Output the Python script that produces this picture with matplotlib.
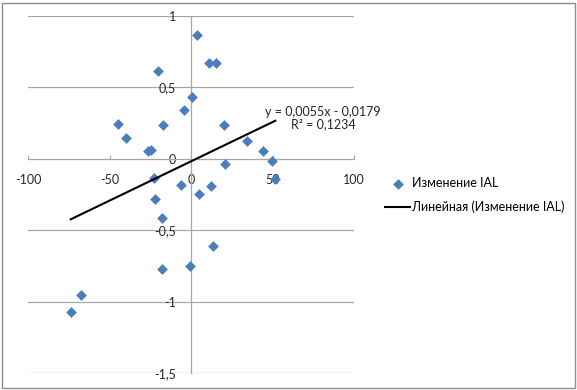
import matplotlib
matplotlib.use("Agg")
import matplotlib.pyplot as plt
from matplotlib.patches import Rectangle
import numpy as np

plt.rcParams['font.family'] = ['Lato', 'DejaVu Sans']

# Data
x_vals = [3.5, 11.2, 15.3, -20.2, 0.6, -4.3, -44.6, -17.0, 20.2, -39.9,
          34.5, -26.6, -24.4, 44.4, 49.7, 21.0, 51.7, -22.7, -6.1, 5.1,
          12.1, -22.3, -18.0, 13.5, -0.6, -17.8, -67.7, -73.8]
y_vals = [0.865, 0.674, 0.674, 0.615, 0.436, 0.345, 0.245, 0.236, 0.236, 0.147,
          0.124, 0.054, 0.063, 0.054, -0.016, -0.035, -0.142, -0.135, -0.184, -0.245,
          -0.193, -0.284, -0.415, -0.613, -0.753, -0.774, -0.953, -1.072]
slope = 0.0055
intercept = -0.0179
r2 = 0.1234

x_ticks = [-100, -50, 0, 50, 100]
x_tick_labels = ["-100", "-50", "0", "50", "100"]
y_ticks = [-1.5, -1, -0.5, 0, 0.5, 1]
y_tick_labels = ["-1,5", "-1", "-0,5", "0", "0,5", "1"]

series_label = "Изменение IAL"
trend_label = "Линейная (Изменение IAL)"

fig = plt.figure(figsize=(5.77, 3.90), dpi=100)
ax = fig.add_axes([28/577, 1-373/390, (354-28)/577, (373-16)/390])

grey = '#a6a6a6'
txt = '#262626'
fs = 9
ax.set_xlim(-100, 100)
ax.set_ylim(-1.5, 1)

for yt in y_ticks:
    if yt != 0:
        ax.axhline(yt, color=grey, lw=0.9, zorder=1)

for s in ['top', 'right']:
    ax.spines[s].set_visible(False)
ax.spines['left'].set_position(('data', 0))
ax.spines['bottom'].set_position(('data', 0))
ax.spines['left'].set_color(grey)
ax.spines['bottom'].set_color(grey)
ax.spines['left'].set_linewidth(0.9)
ax.spines['bottom'].set_linewidth(0.9)

ax.set_xticks(x_ticks)
ax.set_xticklabels(x_tick_labels)
ax.set_yticks(y_ticks)
ax.set_yticklabels(y_tick_labels)
ax.tick_params(axis='x', direction='in', length=3, color=grey, pad=11, labelsize=fs, labelcolor=txt)
ax.tick_params(axis='y', length=0, pad=11, labelsize=fs, labelcolor=txt)

sc = ax.scatter(x_vals, y_vals, marker='D', s=30, color='#4a7ebb', zorder=3,
                label=series_label, linewidths=0)
xs = np.array([min(x_vals), max(x_vals)])
ln, = ax.plot(xs, slope*xs + intercept, color='black', lw=1.5, zorder=4, label=trend_label)

def fmt(v):
    return f"{abs(v):.4f}".replace('.', ',')

eq = f"y = {fmt(slope)}x - {fmt(intercept)}\nR² = {fmt(r2)}"
fig.text(323/577, 1-118/390, eq, ha='center', va='center', multialignment='center',
         fontsize=fs, color=txt, linespacing=1.1)

fig.legend(handles=[sc, ln], labels=[series_label, trend_label],
           loc='center left', bbox_to_anchor=(380/577, 1-195/390),
           frameon=False, fontsize=fs, handlelength=2.0, handletextpad=0.2,
           labelspacing=0.9, borderaxespad=0)

fig.add_artist(Rectangle((2/577, 2/390), 573/577, 385/390, transform=fig.transFigure,
                         fill=False, edgecolor='#8c8c8c', lw=1.0))

fig.savefig('out.png', dpi=100)
